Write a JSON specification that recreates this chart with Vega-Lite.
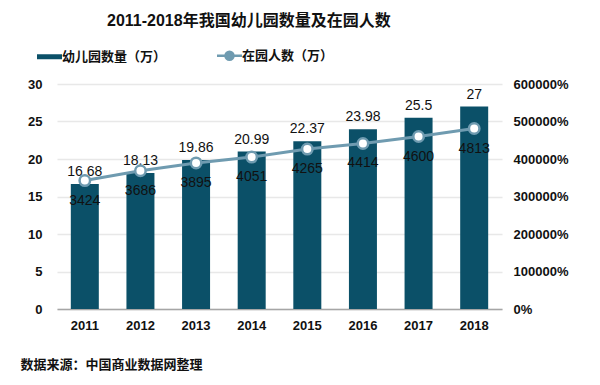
{
  "$schema": "https://vega.github.io/schema/vega-lite/v6.json",
  "width": 445,
  "height": 225,
  "autosize": {"type": "none"},
  "padding": {"left": 57, "top": 84, "right": 98, "bottom": 76},
  "background": "white",
  "config": {
    "font": "Liberation Sans, Noto Sans CJK SC",
    "view": {"stroke": null}
  },
  "title": {
    "text": "2011-2018年我国幼儿园数量及在园人数",
    "anchor": "start",
    "frame": "group",
    "dx": 50,
    "fontSize": 16,
    "fontWeight": "bold",
    "color": "#111111",
    "offset": 20
  },
  "data": {
    "values": [
      {"year": "2011", "count": 16.68, "enrolled": 3424},
      {"year": "2012", "count": 18.13, "enrolled": 3686},
      {"year": "2013", "count": 19.86, "enrolled": 3895},
      {"year": "2014", "count": 20.99, "enrolled": 4051},
      {"year": "2015", "count": 22.37, "enrolled": 4265},
      {"year": "2016", "count": 23.98, "enrolled": 4414},
      {"year": "2017", "count": 25.5, "enrolled": 4600},
      {"year": "2018", "count": 27, "enrolled": 4813}
    ]
  },
  "encoding": {
    "x": {
      "field": "year",
      "type": "ordinal",
      "scale": {"paddingInner": 0.5, "paddingOuter": 0.25},
      "axis": {
        "labelAngle": 0,
        "labelFontSize": 13,
        "labelFontWeight": "bold",
        "labelColor": "#111111",
        "labelPadding": 10,
        "ticks": false,
        "domainColor": "#a6a6a6",
        "domainWidth": 1.5,
        "title": "数据来源：中国商业数据网整理",
        "titleAnchor": "start",
        "titleAlign": "left",
        "titleX": -37,
        "titleY": 55,
        "titleBaseline": "middle",
        "titleFontSize": 13,
        "titleFontWeight": "bold",
        "titleColor": "#111111"
      }
    }
  },
  "layer": [
    {
      "encoding": {
        "y": {
          "field": "count",
          "type": "quantitative",
          "scale": {"domain": [0, 30]},
          "axis": {
            "title": null,
            "tickCount": 6,
            "domain": false,
            "ticks": false,
            "labelPadding": 15,
            "labelFontSize": 13,
            "labelFontWeight": "bold",
            "labelColor": "#111111",
            "gridColor": "#e8e8e8",
            "gridWidth": 1.5
          }
        }
      },
      "layer": [
        {
          "mark": {"type": "bar", "size": 28, "color": "#0b5068"},
          "encoding": {
            "color": {
              "datum": "幼儿园数量（万）",
              "type": "nominal",
              "scale": {"domain": ["幼儿园数量（万）", "在园人数（万）"], "range": ["#0b5068", "#6f9bb0"]},
              "legend": {
                "title": null,
                "orient": "none",
                "direction": "horizontal",
                "legendX": -14,
                "legendY": -35,
                "symbolSize": 400,
                "labelFontSize": 13,
                "labelFontWeight": "bold",
                "labelColor": "#111111",
                "columnPadding": 45,
                "labelOffset": 6,
                "encode": {
                  "symbols": {
                    "update": {
                      "shape": {"signal": "datum.label == '幼儿园数量（万）' ? 'M-1.25,-0.25H1.25V0.25H-1.25Z' : 'M-1.25,0H-0.4M0.4,0H1.25M0.4,0A0.4,0.4 0 1,1 -0.4,0A0.4,0.4 0 1,1 0.4,0'"},
                      "fill": {"signal": "datum.label == '幼儿园数量（万）' ? '#0b5068' : '#ffffff'"},
                      "stroke": {"signal": "datum.label == '幼儿园数量（万）' ? '#0b5068' : '#6f9bb0'"},
                      "strokeWidth": {"signal": "datum.label == '幼儿园数量（万）' ? 0 : 2.5"},
                      "opacity": {"value": 1}
                    }
                  }
                }
              }
            }
          }
        },
        {
          "mark": {"type": "text", "baseline": "bottom", "dy": -5, "fontSize": 14, "color": "#111111"},
          "encoding": {"text": {"field": "count", "type": "quantitative"}}
        }
      ]
    },
    {
      "encoding": {
        "y": {
          "field": "enrolled",
          "type": "quantitative",
          "scale": {"domain": [0, 6000]},
          "axis": {
            "orient": "right",
            "title": null,
            "format": ".0%",
            "tickCount": 6,
            "grid": false,
            "domain": false,
            "ticks": false,
            "labelPadding": 11,
            "labelFontSize": 13,
            "labelFontWeight": "bold",
            "labelColor": "#111111"
          }
        }
      },
      "layer": [
        {
          "mark": {"type": "line", "strokeWidth": 3},
          "encoding": {
            "color": {"datum": "在园人数（万）", "type": "nominal"}
          }
        },
        {
          "mark": {"type": "point", "shape": "circle", "size": 110, "filled": true, "fill": "#ffffff", "stroke": "#6f9bb0", "strokeWidth": 2.5, "opacity": 1}
        },
        {
          "mark": {"type": "text", "baseline": "top", "dy": 13, "fontSize": 14, "color": "#111111"},
          "encoding": {"text": {"field": "enrolled", "type": "quantitative", "format": "d"}}
        }
      ]
    }
  ],
  "resolve": {"scale": {"y": "independent"}}
}
